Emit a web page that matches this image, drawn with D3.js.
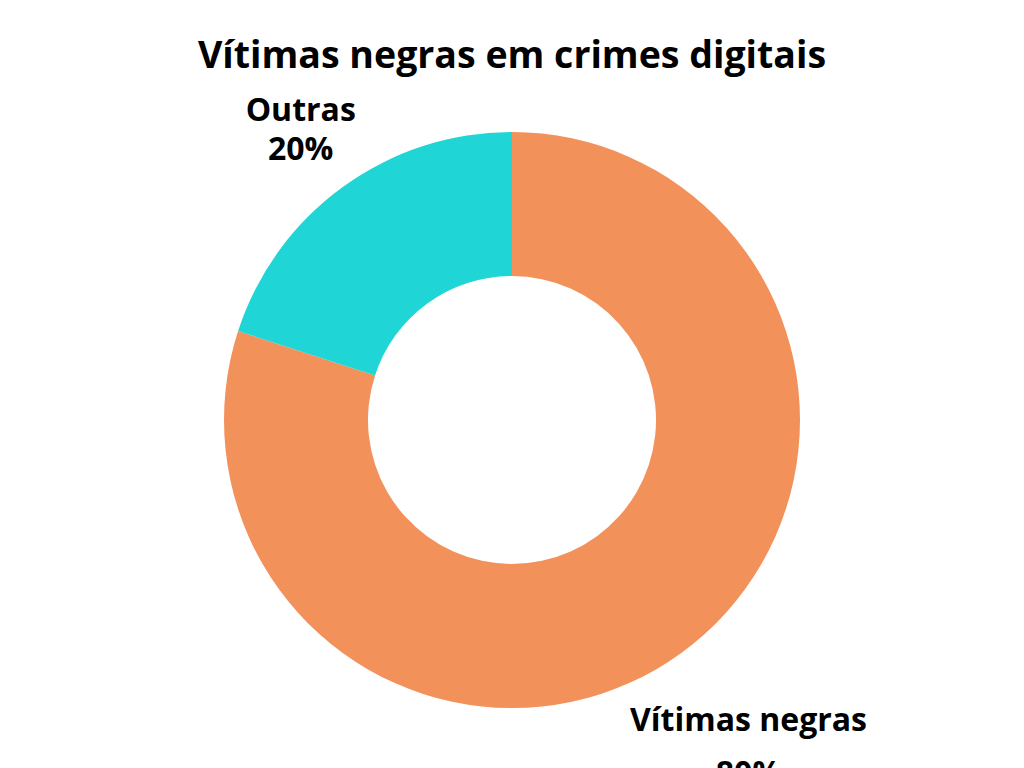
<!DOCTYPE html>
<html><head><meta charset="utf-8">
<script src="https://cdn.jsdelivr.net/npm/d3@7"></script>
<style>html,body{margin:0;padding:0;background:#fff;overflow:hidden}</style>
</head><body>
<svg id="c" width="1024" height="768"></svg>
<script>
const categories = ["Vítimas negras", "Outras"];
const values = [80, 20];
const colors = ["#F2915A", "#1FD5D5"];
const title = "Vítimas negras em crimes digitais";

const svg = d3.select("#c");
const font = "'Open Sans', sans-serif";
const cx = 512, cy = 420, R = 288, r = 144;
// second-line gap per label (the reference renders the accented label with a taller line)
const lineGap = {"Vítimas negras": 53, "Outras": 39};

svg.append("text").attr("x", 512).attr("y", 68).attr("text-anchor", "middle")
  .attr("font-family", font).attr("font-weight", 700).attr("font-size", 37.5)
  .attr("fill", "#000").text(title);

const pie = d3.pie().sort(null).value(d => d.v);
const data = categories.map((c, i) => ({c, v: values[i], col: colors[i]}));
const arcs = pie(data);
const arc = d3.arc().innerRadius(r).outerRadius(R);
const g = svg.append("g").attr("transform", `translate(${cx},${cy})`);
g.selectAll("path").data(arcs).join("path").attr("d", arc).attr("fill", d => d.data.col);

const rho0 = R + 14;
const lab = svg.append("g").attr("transform", `translate(${cx},${cy})`);
arcs.forEach(a => {
  const mid = (a.startAngle + a.endAngle) / 2;
  const dx = Math.sin(mid), dy = -Math.cos(mid);
  const gap = lineGap[a.data.c] || 39;
  const t = lab.append("text").attr("text-anchor", "middle")
    .attr("font-family", font).attr("font-weight", 700).attr("font-size", 32).attr("fill", "#000");
  t.append("tspan").attr("x", 0).attr("y", 0).text(a.data.c);
  t.append("tspan").attr("x", 0).attr("dy", gap).text(a.data.v + "%");
  const bb = t.node().getBBox();
  const w = bb.width, h = 23 + gap;
  const dist = rho0 + Math.abs(dx) * w / 2 + Math.abs(dy) * h / 2;
  const tx = dx * dist, ty = dy * dist;
  const blockCenterOffset = (-23 + gap) / 2;
  t.attr("transform", `translate(${tx},${ty - blockCenterOffset})`);
});
</script>
</body></html>
